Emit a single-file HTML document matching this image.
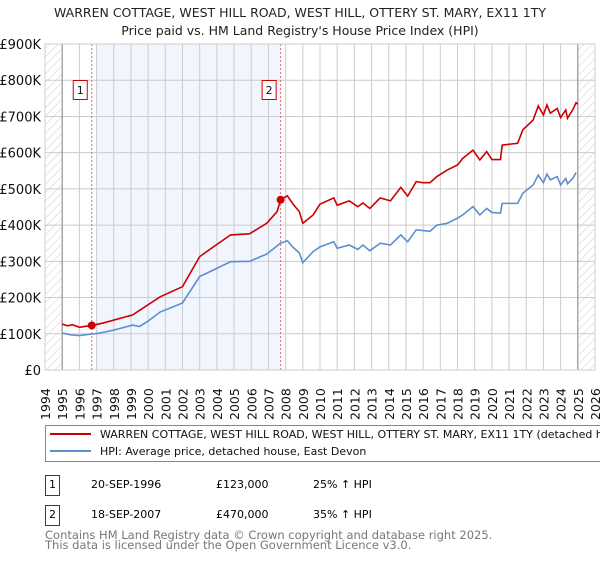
<!DOCTYPE html>
<html><head><meta charset="utf-8"><style>
body{margin:0;background:#fff;font-family:"Liberation Sans","DejaVu Sans",sans-serif}
svg text{font-family:"DejaVu Sans","Liberation Sans",sans-serif}
</style></head><body>
<svg id="c" width="600" height="560" xmlns="http://www.w3.org/2000/svg">
<defs><pattern id="h" width="6" height="6" patternUnits="userSpaceOnUse" patternTransform="rotate(45)"><line x1="0" y1="0" x2="0" y2="6" stroke="#ccc" stroke-width="1"/></pattern></defs>
<text x="300" y="17" text-anchor="middle" font-size="12.5" fill="#222">WARREN COTTAGE, WEST HILL ROAD, WEST HILL, OTTERY ST. MARY, EX11 1TY</text>
<text x="300" y="35" text-anchor="middle" font-size="12.5" fill="#222">Price paid vs. HM Land Registry's House Price Index (HPI)</text>
<g id="plot"></g>
<rect x="45.5" y="425.5" width="560" height="36" fill="#fff" stroke="#888"/>
<line x1="50" y1="434" x2="91" y2="434" stroke="#cc0000" stroke-width="2"/>
<text x="100" y="438" font-size="11" fill="#111">WARREN COTTAGE, WEST HILL ROAD, WEST HILL, OTTERY ST. MARY, EX11 1TY (detached house)</text>
<line x1="50" y1="451" x2="91" y2="451" stroke="#5b8fd0" stroke-width="2"/>
<text x="100" y="455" font-size="11" fill="#111">HPI: Average price, detached house, East Devon</text>
<g>
<rect x="45.5" y="475.5" width="14" height="20" fill="#fff" stroke="#cc0000"/><text x="52.5" y="488" text-anchor="middle" font-size="11">1</text>
<text x="91" y="488" font-size="11">20-SEP-1996</text><text x="216" y="488" font-size="11">£123,000</text><text x="313" y="488" font-size="11">25% ↑ HPI</text></g>
<g>
<rect x="45.5" y="505.5" width="14" height="20" fill="#fff" stroke="#cc0000"/><text x="52.5" y="518" text-anchor="middle" font-size="11">2</text>
<text x="91" y="518" font-size="11">18-SEP-2007</text><text x="216" y="518" font-size="11">£470,000</text><text x="313" y="518" font-size="11">35% ↑ HPI</text></g>
<text x="45" y="539" font-size="11.5" fill="#777">Contains HM Land Registry data © Crown copyright and database right 2025.</text>
<text x="45" y="549" font-size="11.5" fill="#777">This data is licensed under the Open Government Licence v3.0.</text>
</svg>
<script>
const hpiYears=[1995,1995.5,1996,1996.5,1997.2,1998,1999.1,1999.5,2000,2000.7,2002,2003,2003.8,2004.8,2005.9,2006.9,2007.7,2008.1,2008.4,2008.8,2009,2009.6,2010,2010.8,2011,2011.7,2012.2,2012.5,2012.9,2013.5,2014.1,2014.7,2015.1,2015.6,2016.4,2016.8,2017.4,2018,2018.3,2018.9,2019.3,2019.7,2020,2020.5,2020.6,2021.5,2021.8,2022.4,2022.7,2023,2023.2,2023.4,2023.8,2024,2024.3,2024.4,2024.7,2024.9];
const hpiValues=[102,97,95,98,102,110,124,120,135,160,185,258,276,299,300,320,350,357,340,323,296,327,340,354,336,345,333,345,329,350,345,373,354,387,383,400,405,419,428,451,428,446,435,433,460,460,488,511,538,517,541,525,534,511,529,514,529,545];
const priceYears=[1995,1995.3,1995.6,1996,1996.4,1996.72,1997.4,1999.1,2000.7,2002,2003,2003.8,2004.8,2005.9,2006.9,2007.5,2007.71,2008.1,2008.4,2008.8,2009,2009.6,2010,2010.8,2011,2011.7,2012.2,2012.5,2012.9,2013.5,2014.1,2014.7,2015.1,2015.6,2016,2016.4,2016.8,2017.4,2018,2018.3,2018.9,2019.3,2019.7,2020,2020.5,2020.6,2021.5,2021.8,2022.4,2022.7,2023,2023.2,2023.4,2023.8,2024,2024.3,2024.4,2024.7,2024.9,2025];
const priceValues=[127,122,125,118,121,123,130,152,202,230,313,340,373,376,405,437,470,481,460,437,405,428,458,475,455,467,451,461,446,475,467,504,480,520,517,517,534,552,566,584,607,580,603,581,581,621,626,663,690,729,704,732,709,722,697,718,695,718,738,734];
const yTicks=[0,100,200,300,400,500,600,700,800,900];
const yTickLabels=["£0","£100K","£200K","£300K","£400K","£500K","£600K","£700K","£800K","£900K"];
const xTicks=[1994,1995,1996,1997,1998,1999,2000,2001,2002,2003,2004,2005,2006,2007,2008,2009,2010,2011,2012,2013,2014,2015,2016,2017,2018,2019,2020,2021,2022,2023,2024,2025,2026];
const sales=[[1996.72,123],[2007.71,470]];
const X=y=>45+(y-1994)*(550/32), Y=v=>370-v*(326/900);
const NS="http://www.w3.org/2000/svg", g=document.getElementById('plot');
function mk(t,a){const e=document.createElementNS(NS,t);for(const k in a)e.setAttribute(k,a[k]);g.appendChild(e);return e;}
let e;
e=mk('rect',{x:X(1996.99),y:44,width:X(2007.71)-X(1996.99),height:326,fill:'#eef3fc',opacity:0.8});


yTicks.forEach((v,i)=>{e=mk('line',{x1:45,x2:595,y1:Y(v),y2:Y(v),stroke:'#ccc'});


e=mk('text',{x:41,y:Y(v)+5,'text-anchor':'end','font-size':13,fill:'#111'});e.textContent=yTickLabels[i];

});
xTicks.forEach(y=>{e=mk('line',{x1:X(y),x2:X(y),y1:44,y2:370,stroke:'#ccc'});


e=mk('text',{x:0,y:0,'font-size':12.5,fill:'#111',transform:`translate(${X(y)+5},${420}) rotate(-90)`});e.textContent=y;

});
e=mk('rect',{x:45,y:44,width:X(1995)-45,height:326,fill:'url(#h)'});


e=mk('rect',{x:X(2025),y:44,width:595-X(2025),height:326,fill:'url(#h)'});


e=mk('line',{x1:X(1995),x2:X(1995),y1:44,y2:370,stroke:'#888'});


e=mk('line',{x1:X(2025),x2:X(2025),y1:44,y2:370,stroke:'#888'});


sales.forEach((s,i)=>{e=mk('line',{x1:X(s[0]),x2:X(s[0]),y1:44,y2:370,stroke:'#e06666','stroke-dasharray':'2,2'});

});
e=mk('polyline',{points:hpiYears.map((y,i)=>X(y)+','+Y(hpiValues[i])).join(' '),fill:'none',stroke:'#5b8fd0','stroke-width':1.6});


e=mk('polyline',{points:priceYears.map((y,i)=>X(y)+','+Y(priceValues[i])).join(' '),fill:'none',stroke:'#cc0000','stroke-width':1.6});


sales.forEach((s,i)=>{e=mk('circle',{cx:X(s[0]),cy:Y(s[1]),r:4,fill:'#cc0000'});


const bx=X(s[0])-19;
e=mk('rect',{x:bx+0.5,y:80.5,width:14,height:19,fill:'#fff',stroke:'#cc0000'});


e=mk('text',{x:bx+7.5,y:94,'text-anchor':'middle','font-size':11,fill:'#111'});e.textContent=String(i+1);

});
e=mk('rect',{x:45,y:44,width:550,height:326,fill:'none',stroke:'#ccc'});


</script>
</body></html>
